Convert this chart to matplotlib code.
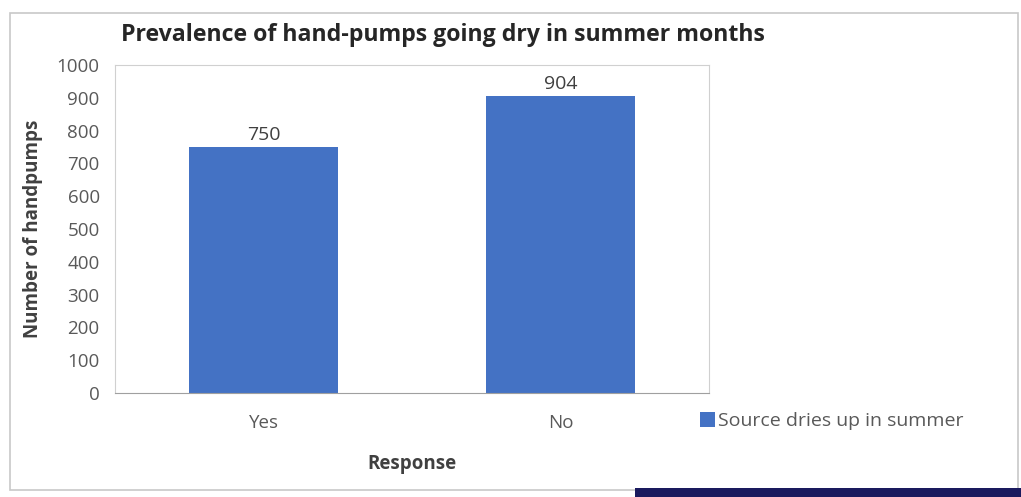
import matplotlib.pyplot as plt
from matplotlib.patches import Rectangle

categories = ["Yes", "No"]
counts = [750, 904]
series_name = "Source dries up in summer"

plt.rcParams['font.family'] = ['Open Sans', 'DejaVu Sans']

fig = plt.figure(figsize=(10.21, 4.97), dpi=100)
ax = fig.add_axes([0.1126, 0.2093, 0.5818, 0.6599])

bars = ax.bar(range(len(categories)), counts, width=0.5, color="#4472C4",
              label=series_name)
for b, v in zip(bars, counts):
    ax.text(b.get_x() + b.get_width() / 2, v + 10, str(v), ha="center",
            va="bottom", fontsize=14, color="#404040")

ax.set_xlim(-0.5, 1.5)
ax.set_ylim(0, 1000)
ax.set_yticks(range(0, 1001, 100))
ax.set_xticks(range(len(categories)))
ax.set_xticklabels(categories)
ax.tick_params(length=0, labelsize=13.5, labelcolor="#595959")
ax.tick_params(axis="y", pad=11)
ax.tick_params(axis="x", pad=15)
for s in ax.spines.values():
    s.set_color("#d0d0d0")
ax.spines["bottom"].set_color("#a0a0a0")

ax.set_ylabel("Number of handpumps", fontsize=13.5, fontweight="bold",
              color="#404040", labelpad=10)
ax.set_xlabel("Response", fontsize=13.5, fontweight="bold", color="#404040",
              labelpad=16)
fig.text(0.119, 0.929, "Prevalence of hand-pumps going dry in summer months",
         fontsize=16.7, fontweight="bold", color="#262626", va="center")

ax.legend(loc="center left", bbox_to_anchor=(0.955, -0.085), frameon=False,
          fontsize=14, handlelength=0.8, handleheight=0.8, handletextpad=0.15,
          labelcolor="#595959")

fig.patches.append(Rectangle((0.010, 0.014), 0.987, 0.96, transform=fig.transFigure,
                             fill=False, edgecolor="#c8c8c8", lw=1.2))
fig.patches.append(Rectangle((0.622, 0.0), 0.378, 0.018, transform=fig.transFigure,
                             color="#1a1a5e", lw=0))

fig.savefig("out.png", dpi=100)
